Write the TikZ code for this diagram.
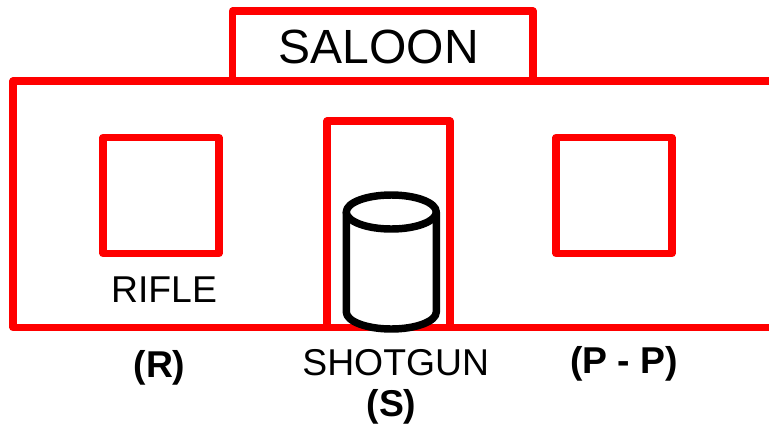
\documentclass[tikz,border=0pt]{standalone}
\usepackage{fontspec}
\setmainfont{Liberation Sans}
\tikzset{
  redbox/.style={draw=red,line width=5.4pt,line join=round},
  cyl/.style={draw=black,line width=5.6pt,line join=round},
  lbl/.style={inner sep=0pt,text=black,anchor=center},
  plainlbl/.style={lbl,font=\fontsize{28pt}{28pt}\selectfont},
  boldlbl/.style={lbl,font=\bfseries\fontsize{28pt}{28pt}\selectfont},
}
\begin{document}
\begin{tikzpicture}[x=0.75pt,y=-0.75pt]
\useasboundingbox (0,0) rectangle (769,426);
\draw[redbox] (772,81) -- (13,81) -- (13,327.5) -- (772,327.5);
\draw[redbox] (232.5,81) -- (232.5,11) -- (533,11) -- (533,81);
\draw[redbox] (103,137.5) rectangle (219,253.5);
\draw[redbox] (556,137.5) rectangle (672,253.5);
\draw[redbox] (327,327.5) -- (327,121) -- (450,121) -- (450,327.5);
\draw[cyl,fill=white] (346.3,212) -- (346.3,312) .. controls (346.3,321.4) and (366.7,329) .. (391.3,329) .. controls (415.9,329) and (436.3,321.4) .. (436.3,312) -- (436.3,212);
\draw[cyl,fill=white] (391.3,212) ellipse[x radius=45,y radius=17];
\node[lbl,font=\fontsize{36pt}{36pt}\selectfont] (saloon) at (378.8,47) {SALOON};
\node[plainlbl] (rifle) at (164,289.5) {RIFLE};
\node[plainlbl] (shotgun) at (395.7,363) {SHOTGUN};
\node[boldlbl] (r) at (159.5,367.5) {(R)};
\node[boldlbl] (s) at (391.5,406.5) {(S)};
\node[boldlbl] (pp) at (624,364) {(P - P)};
\end{tikzpicture}
\end{document}
